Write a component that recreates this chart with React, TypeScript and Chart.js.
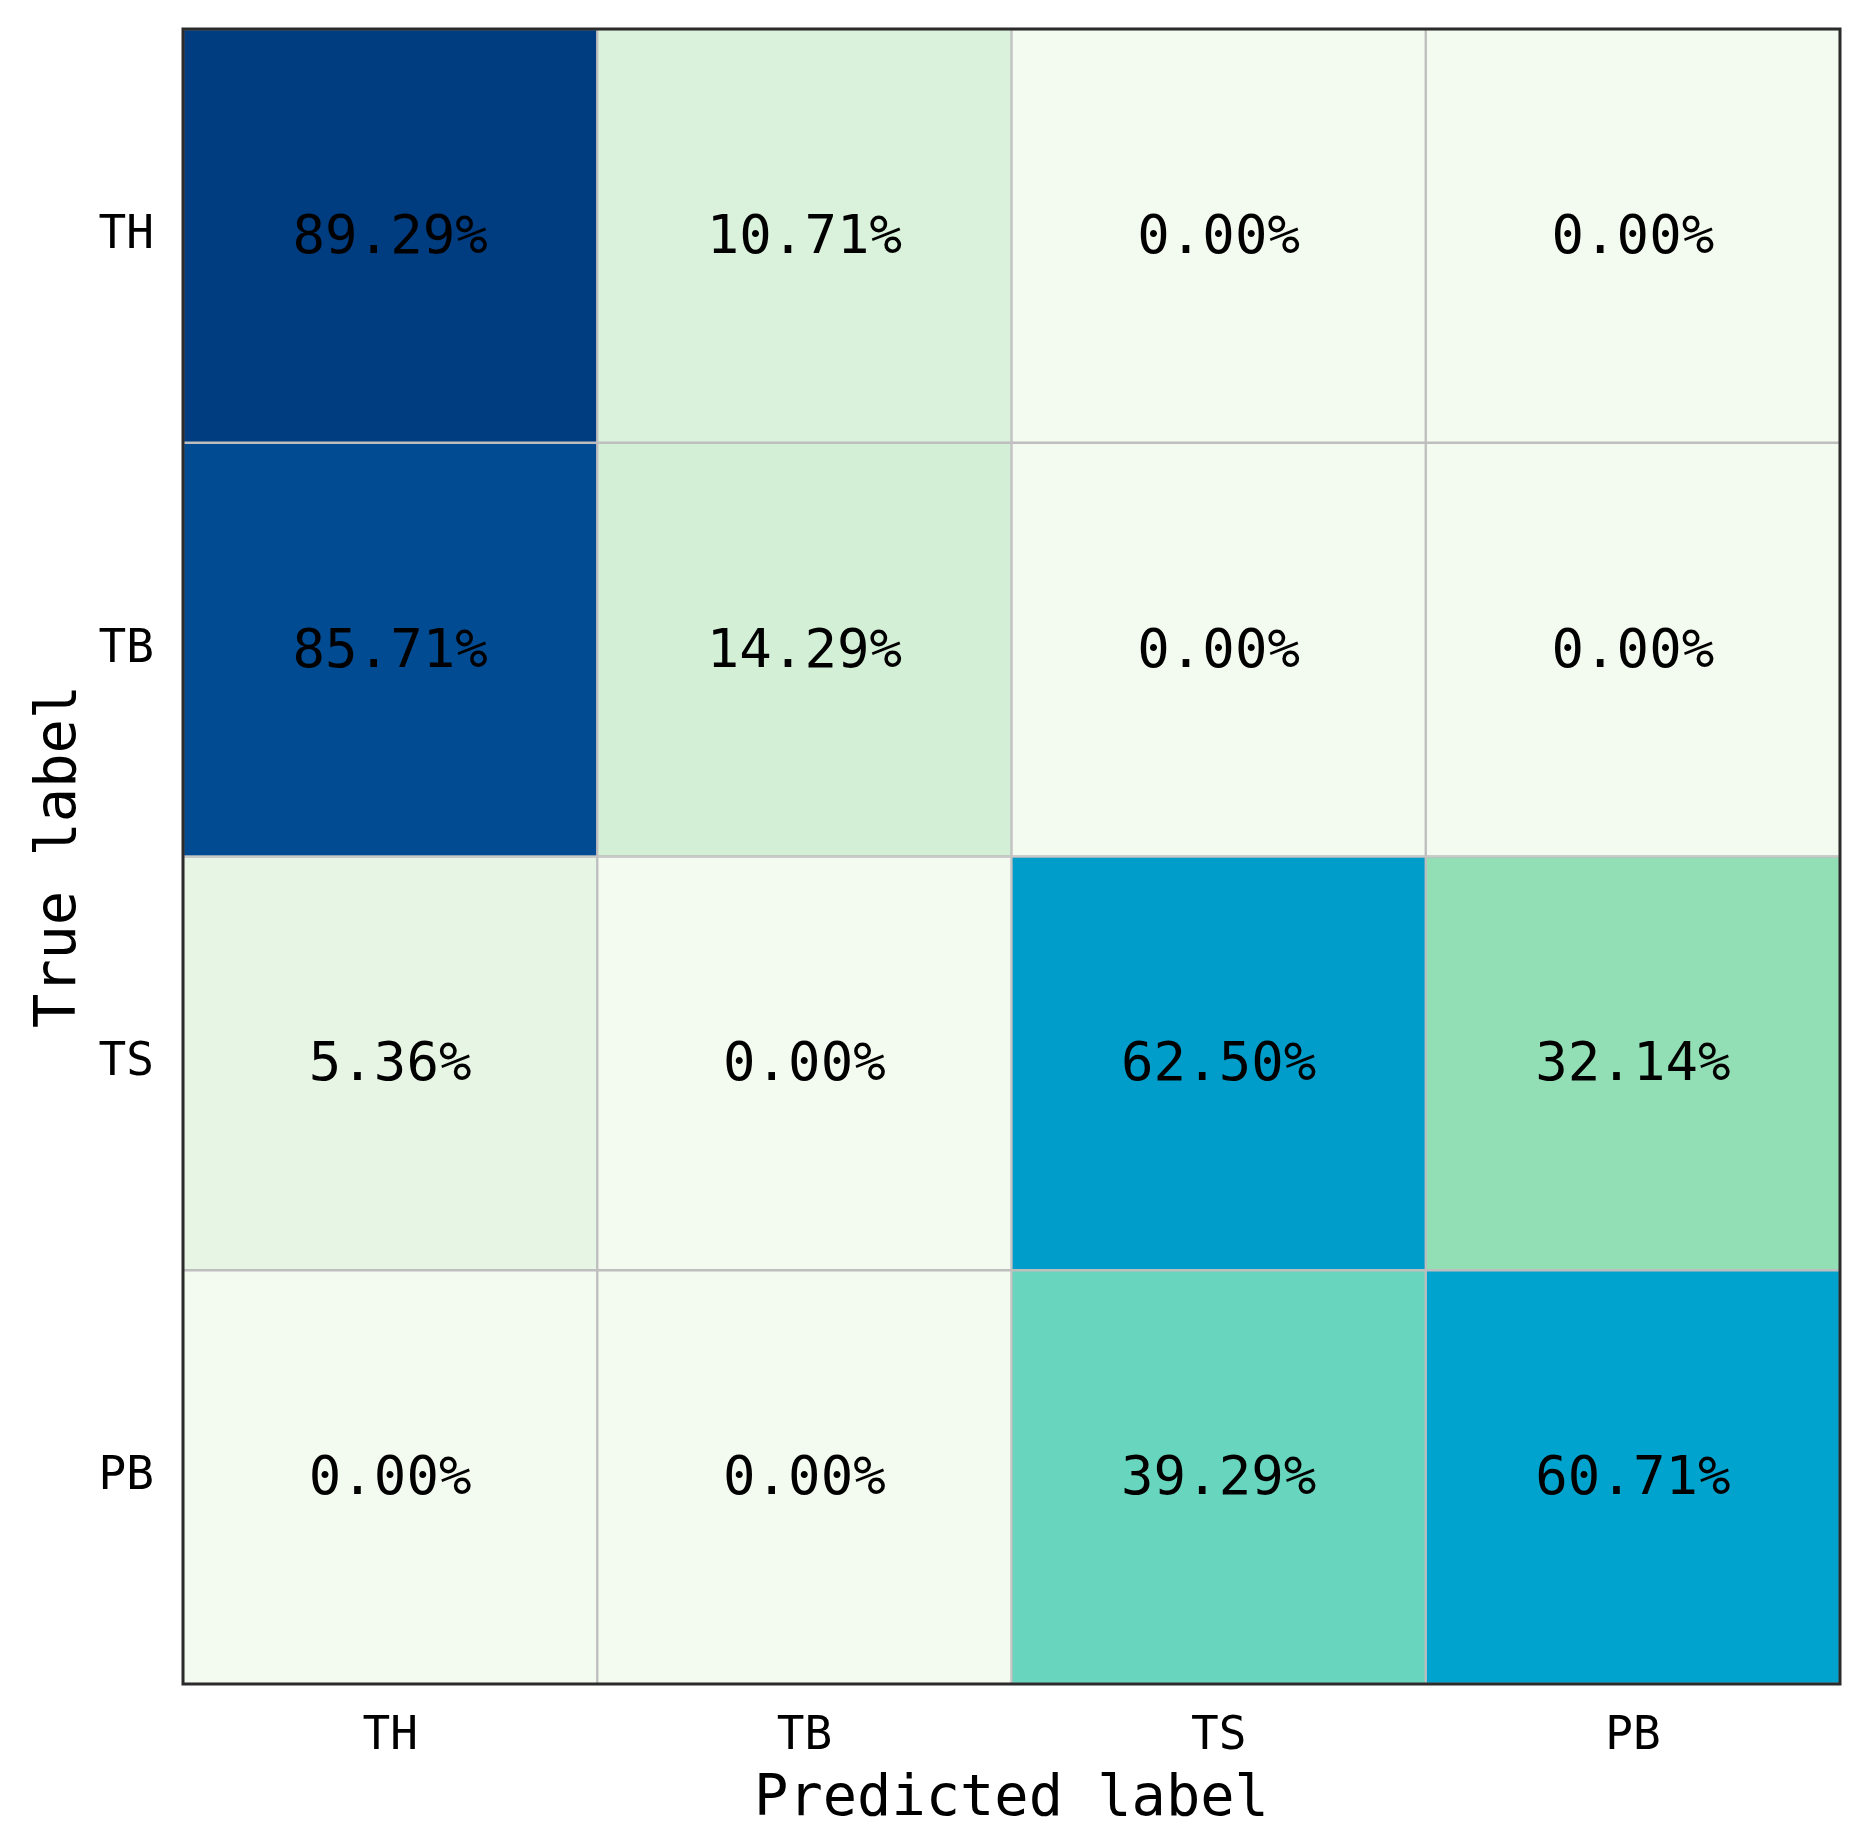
import React, { useEffect, useRef } from "react";
import { Chart, registerables } from "chart.js";

Chart.register(...registerables);

// Categories
const PREDICTED_LABELS = ["TH", "TB", "TS", "PB"];
const TRUE_LABELS = ["TH", "TB", "TS", "PB"];

// Row values (percent) — one array per true label
const ROW_TH = [89.29, 10.71, 0.0, 0.0];
const ROW_TB = [85.71, 14.29, 0.0, 0.0];
const ROW_TS = [5.36, 0.0, 62.5, 32.14];
const ROW_PB = [0.0, 0.0, 39.29, 60.71];
const ROWS = [ROW_TH, ROW_TB, ROW_TS, ROW_PB];

// Colour map stops (value -> colour)
const COLOR_STOPS: [number, string][] = [
  [0, "#F3FAEF"],
  [5.36, "#E7F6E4"],
  [10.71, "#DAF2DC"],
  [14.29, "#D3F0D7"],
  [32.14, "#93DFB5"],
  [39.29, "#68D5BE"],
  [60.71, "#00A3CD"],
  [62.5, "#009CCA"],
  [85.71, "#004B91"],
  [89.29, "#003C80"],
  [100, "#08306B"],
];

const FONT = "'DejaVu Sans Mono', monospace";

function hexToRgb(h: string): number[] {
  const n = parseInt(h.slice(1), 16);
  return [(n >> 16) & 255, (n >> 8) & 255, n & 255];
}

function colorFor(v: number): string {
  for (let k = 0; k < COLOR_STOPS.length - 1; k++) {
    const [v0, c0] = COLOR_STOPS[k];
    const [v1, c1] = COLOR_STOPS[k + 1];
    if (v >= v0 && v <= v1) {
      const t = v1 === v0 ? 0 : (v - v0) / (v1 - v0);
      const a = hexToRgb(c0);
      const b = hexToRgb(c1);
      const c = a.map((x, i) => Math.round(x + (b[i] - x) * t));
      return `rgb(${c[0]},${c[1]},${c[2]})`;
    }
  }
  return COLOR_STOPS[COLOR_STOPS.length - 1][1];
}

const cellTextPlugin = {
  id: "cellText",
  afterDatasetsDraw(chart: any) {
    const ctx = chart.ctx;
    ctx.save();
    ctx.fillStyle = "#000000";
    ctx.font = `54px ${FONT}`;
    ctx.textAlign = "center";
    ctx.textBaseline = "middle";
    chart.data.datasets.forEach((_ds: any, i: number) => {
      const meta = chart.getDatasetMeta(i);
      meta.data.forEach((el: any, j: number) => {
        const { x, y, base } = el.getProps(["x", "y", "base"], true);
        ctx.fillText(ROWS[i][j].toFixed(2) + "%", x, (y + base) / 2 + 3);
      });
    });
    ctx.restore();
  },
};

const frameBorderPlugin = {
  id: "frameBorder",
  afterDraw(chart: any) {
    const { ctx, chartArea } = chart;
    ctx.save();
    ctx.strokeStyle = "#2b2b2b";
    ctx.lineWidth = 3;
    ctx.strokeRect(
      chartArea.left,
      chartArea.top,
      chartArea.right - chartArea.left,
      chartArea.bottom - chartArea.top
    );
    ctx.restore();
  },
};

export default function App() {
  const canvasRef = useRef<HTMLCanvasElement | null>(null);

  useEffect(() => {
    if (!canvasRef.current) return;
    const chart = new Chart(canvasRef.current, {
      type: "bar",
      data: {
        labels: PREDICTED_LABELS,
        datasets: TRUE_LABELS.map((lab, i) => ({
          label: lab,
          data: PREDICTED_LABELS.map(() => 1),
          backgroundColor: ROWS[i].map(colorFor),
          borderColor: "#BEBEBE",
          borderWidth: 1.5,
          borderSkipped: false,
          barPercentage: 1,
          categoryPercentage: 1,
        })),
      },
      options: {
        responsive: false,
        animation: false,
        devicePixelRatio: 1,
        layout: { padding: { left: 0, top: 29, right: 30, bottom: 0 } },
        plugins: {
          legend: { display: false },
          tooltip: { enabled: false },
        },
        scales: {
          x: {
            type: "category",
            stacked: true,
            grid: { display: false },
            border: { display: false },
            ticks: {
              color: "#000000",
              font: { family: FONT, size: 46 },
              padding: 17,
              maxRotation: 0,
            },
            title: {
              display: true,
              text: "Predicted label",
              color: "#000000",
              font: { family: FONT, size: 57 },
              padding: { top: 0, bottom: 10 },
            },
            afterFit: (s: any) => {
              s.height = 160;
              s.paddingLeft = 0;
              s.paddingRight = 0;
            },
          },
          y: {
            type: "linear",
            stacked: true,
            min: 0,
            max: 4,
            reverse: true,
            grid: { display: false },
            border: { display: false },
            afterBuildTicks: (s: any) => {
              s.ticks = TRUE_LABELS.map((_l, i) => ({ value: i + 0.5 }));
            },
            ticks: {
              color: "#000000",
              font: { family: FONT, size: 46 },
              padding: 21,
              autoSkip: false,
              callback: (v: any) => TRUE_LABELS[Math.floor(Number(v))],
            },
            title: {
              display: true,
              text: "True label",
              color: "#000000",
              font: { family: FONT, size: 57 },
              padding: { top: 26, bottom: 0 },
            },
            afterFit: (s: any) => {
              s.width = 183;
              s.paddingTop = 0;
              s.paddingBottom = 0;
            },
          },
        },
      },
      plugins: [cellTextPlugin, frameBorderPlugin],
    });
    return () => chart.destroy();
  }, []);

  return (
    <div
      style={{
        position: "fixed",
        left: 0,
        top: 0,
        width: 1870,
        height: 1844,
        background: "#ffffff",
      }}
    >
      <canvas
        ref={canvasRef}
        width={1870}
        height={1844}
        style={{ width: 1870, height: 1844, display: "block" }}
      />
    </div>
  );
}
